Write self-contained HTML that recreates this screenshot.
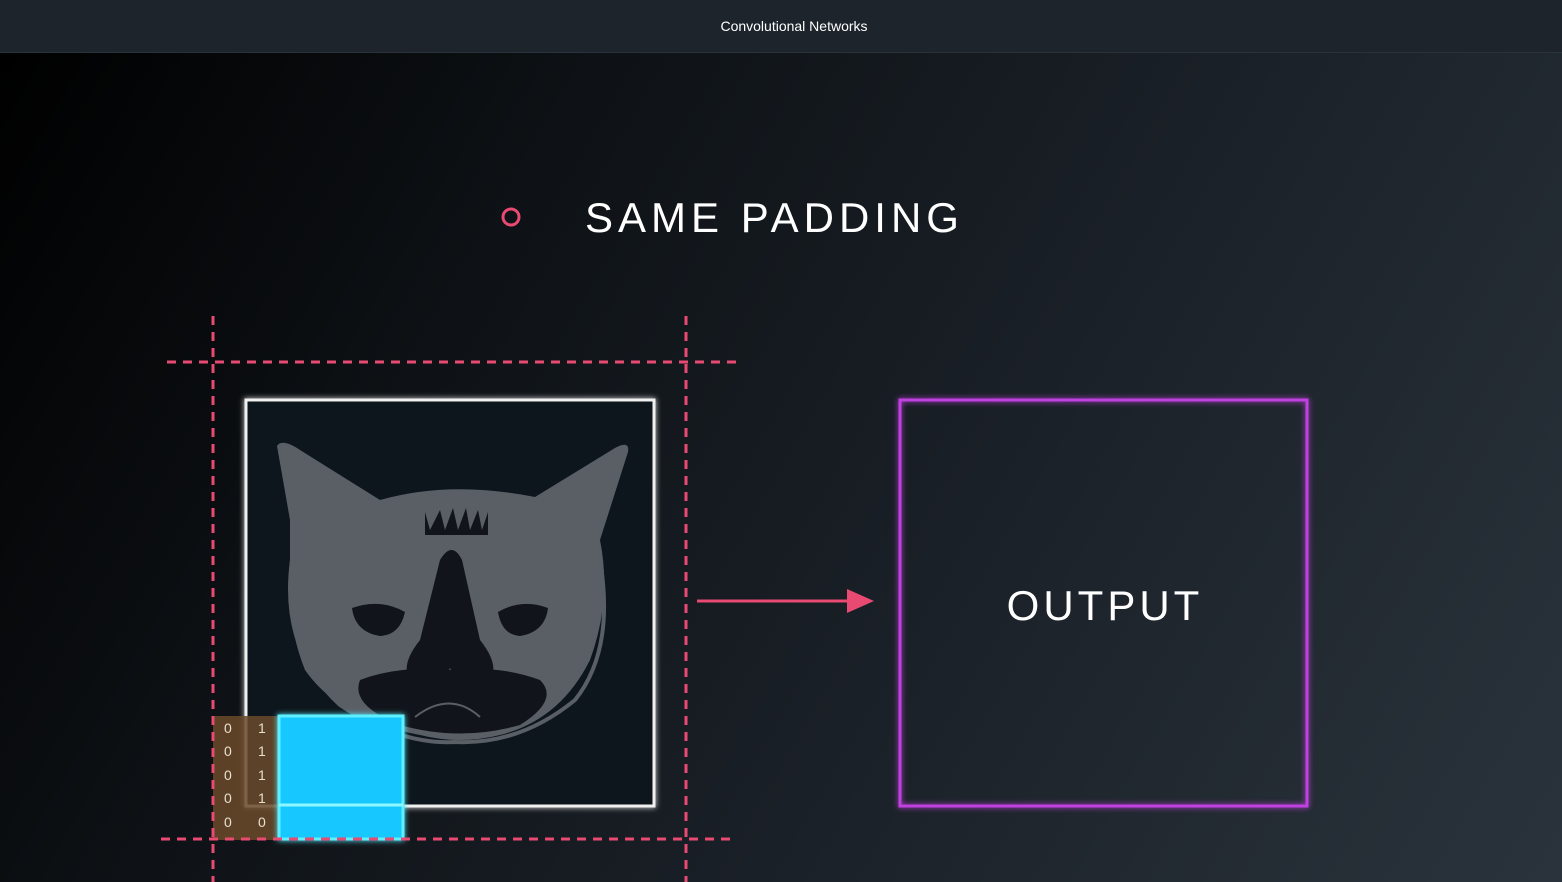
<!DOCTYPE html>
<html><head><meta charset="utf-8"><style>
html,body{margin:0;padding:0;width:1562px;height:882px;overflow:hidden;background:#000}
.hdr{position:absolute;left:0;top:0;width:1562px;height:52px;background:#1d242c;border-bottom:1px solid #2a323b;color:#fff;font:14px "Liberation Sans",sans-serif;text-align:center;line-height:52px;text-indent:26px}
.main{position:absolute;left:0;top:52px;width:1562px;height:830px;background:linear-gradient(120deg,#000 0%,#0e1216 30%,#1a2027 60%,#2a333c 100%)}
svg{position:absolute;left:0;top:0}
</style></head><body>
<div class="main"></div>
<div class="hdr">Convolutional Networks</div>
<svg width="1562" height="882" viewBox="0 0 1562 882">
<defs>
<filter id="g" x="-20%" y="-20%" width="140%" height="140%"><feGaussianBlur stdDeviation="3" result="b"/><feMerge><feMergeNode in="b"/><feMergeNode in="SourceGraphic"/></feMerge></filter>
</defs>
<circle cx="511" cy="217" r="8" fill="none" stroke="#e84a72" stroke-width="3"/>
<text x="585" y="232" fill="#fff" font-family="Liberation Sans,sans-serif" font-size="42" letter-spacing="5">SAME PADDING</text>
<rect x="246" y="400" width="408" height="406" fill="#11151b" stroke="#f0f0f0" stroke-width="3" filter="url(#g)"/>
<g fill="#5a5f66">
<path d="M290 520 L277 446 Q282 438 300 450 L380 500 Q450 480 535 497 L615 448 Q630 440 628 452 L600 540 Q612 600 590 660 Q560 720 500 735 Q460 745 420 735 Q340 720 305 670 Q285 620 290 560 Z"/>
</g>
<path d="M292 560 Q280 650 340 705 Q400 745 455 742 Q520 745 575 700 Q615 650 600 560" fill="none" stroke="#5a5f66" stroke-width="4"/>
<g fill="#11151b">
<path d="M440 560 Q452 540 462 560 L480 640 Q500 665 490 680 Q460 690 450 668 Q440 690 410 680 Q400 665 420 640 Z"/>
<path d="M360 680 Q400 665 450 670 Q500 665 540 680 Q560 700 520 725 Q460 742 400 725 Q350 705 360 680 Z"/>
<path d="M352 608 Q380 598 405 612 Q400 635 380 636 Q355 632 352 608 Z"/>
<path d="M548 608 Q522 598 498 612 Q502 635 520 636 Q545 632 548 608 Z"/>
<path d="M425 512 L430 530 L440 510 L445 530 L453 508 L458 530 L466 508 L470 530 L478 510 L482 530 L488 512 L488 535 L425 535 Z"/>
</g>
<path d="M415 717 Q450 690 480 717" fill="none" stroke="#5a5f66" stroke-width="2"/>
<rect x="213" y="716" width="66" height="124" fill="#6b4a2a" opacity="0.85"/>
<g fill="#e8e0d0" font-family="Liberation Sans,sans-serif" font-size="14">
<text x="224" y="733">0</text><text x="258" y="733">1</text>
<text x="224" y="756">0</text><text x="258" y="756">1</text>
<text x="224" y="780">0</text><text x="258" y="780">1</text>
<text x="224" y="803">0</text><text x="258" y="803">1</text>
<text x="224" y="827">0</text><text x="258" y="827">0</text>
</g>
<rect x="279" y="716" width="124" height="123" fill="#12c8ff" stroke="#5ff0ff" stroke-width="3" filter="url(#g)"/>
<line x1="279" y1="805" x2="403" y2="805" stroke="#8ff8ff" stroke-width="3"/>
<g stroke="#e84a72" stroke-width="3" stroke-dasharray="9 7" fill="none">
<line x1="167" y1="362" x2="736" y2="362"/>
<line x1="161" y1="839" x2="730" y2="839"/>
<line x1="213" y1="316" x2="213" y2="882"/>
<line x1="686" y1="316" x2="686" y2="882"/>
</g>
<line x1="697" y1="601" x2="850" y2="601" stroke="#e84a72" stroke-width="3"/>
<polygon points="847,589 874,601 847,613" fill="#e84a72"/>
<rect x="900" y="400" width="407" height="406" fill="none" stroke="#c040e0" stroke-width="3" filter="url(#g)"/>
<text x="1105" y="620" text-anchor="middle" fill="#fff" font-family="Liberation Sans,sans-serif" font-size="42" letter-spacing="4">OUTPUT</text>
</svg>
</body></html>
